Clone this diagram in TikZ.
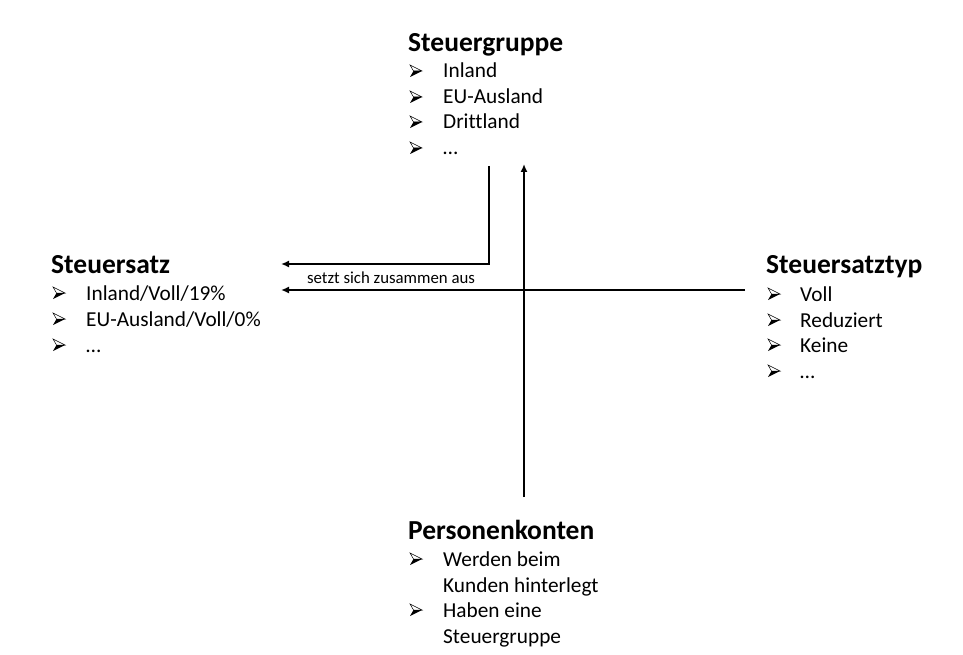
\documentclass[tikz,border=0pt]{standalone}
\usepackage{fontspec}
\setmainfont[Ligatures=NoCommon]{Carlito}
\usetikzlibrary{arrows.meta}
\tikzset{
  title/.style={anchor=base west, inner sep=0pt, font=\fontsize{27.5}{32}\selectfont\bfseries},
  item/.style={anchor=base west, inner sep=0pt, font=\fontsize{21.3}{25}\selectfont},
  conn/.style={line width=1.8pt, -{Latex[length=8pt,width=7pt]}},
  lbl/.style={anchor=base, inner sep=0pt, font=\fontsize{16.8}{19}\selectfont},
  arrowbul/.pic={
    \draw[line width=0.5pt, line join=miter, fill=white] (0,-6) -- (12,0) -- (3.5,0) -- cycle;
    \fill[black, line join=miter] (0,6) -- (12,0) -- (3.5,0) -- cycle;
  }
}
\begin{document}
\begin{tikzpicture}[x=1pt,y=-1pt]
\useasboundingbox (0,0) rectangle (963,655);
% Steuergruppe
\node[title] (sg) at (408,52) {Steuergruppe};
\pic at (410,71) {arrowbul}; \node[item] (sg1) at (443,78) {Inland};
\pic at (410,97) {arrowbul}; \node[item] (sg2) at (443,104) {EU-Ausland};
\pic at (410,122) {arrowbul}; \node[item] (sg3) at (443,129) {Drittland};
\pic at (410,148) {arrowbul}; \node[item] (sg4) at (443,155) {…};
% Steuersatz
\node[title] (ss) at (51,273) {Steuersatz};
\pic at (53,293) {arrowbul}; \node[item] (ss1) at (86,300) {Inland/Voll/19\%};
\pic at (53,319) {arrowbul}; \node[item] (ss2) at (86,326) {EU-Ausland/Voll/0\%};
\pic at (53,345) {arrowbul}; \node[item] (ss3) at (86,352) {…};
% Steuersatztyp
\node[title] (st) at (766,273) {Steuersatztyp};
\pic at (768,294) {arrowbul}; \node[item] (st1) at (800,301) {Voll};
\pic at (768,320) {arrowbul}; \node[item] (st2) at (800,327) {Reduziert};
\pic at (768,345) {arrowbul}; \node[item] (st3) at (800,352) {Keine};
\pic at (768,371) {arrowbul}; \node[item] (st4) at (800,378) {…};
% Personenkonten
\node[title] (pk) at (408,539) {Personenkonten};
\pic at (410,559) {arrowbul}; \node[item] (pk1) at (443,566) {Werden beim};
\node[item] (pk2) at (443,592) {Kunden hinterlegt};
\pic at (410,610) {arrowbul}; \node[item] (pk3) at (443,617) {Haben eine};
\node[item] (pk4) at (443,643) {Steuergruppe};
% connectors
\coordinate (a1) at (489,166);
\coordinate (a2) at (489,264);
\coordinate (a3) at (281,264);
\draw[conn] (a1) -- (a2) -- (a3);
\coordinate (b1) at (524,497);
\coordinate (b2) at (524,164);
\draw[conn] (b1) -- (b2);
\coordinate (c1) at (745,290);
\coordinate (c2) at (281,290);
\draw[conn] (c1) -- (c2);
\node[lbl] (lab) at (391,283) {setzt sich zusammen aus};
\end{tikzpicture}
\end{document}
